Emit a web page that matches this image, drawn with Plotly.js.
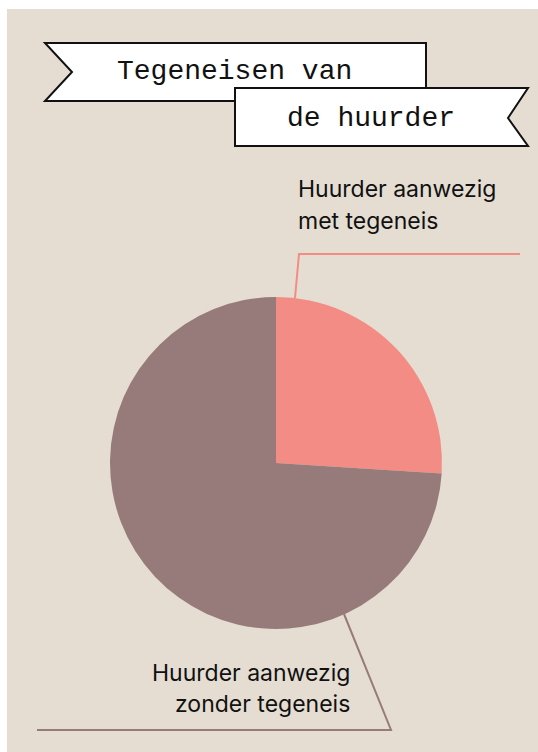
<!DOCTYPE html>
<html>
<head>
<meta charset="utf-8">
<script src="https://cdn.plot.ly/plotly-3.0.1.min.js"></script>
<style>html,body{margin:0;padding:0;background:#fff;}#chart{width:538px;height:752px;}</style>
</head>
<body>
<div id="chart"></div>
<script>
// Data
const categories = ["Huurder aanwezig met tegeneis", "Huurder aanwezig zonder tegeneis"];
const values = [26, 74];
const sliceColors = ["#f28c85", "#967b7a"];
const titleLines = ["Tegeneisen van", "de huurder"];
const labelTop = ["Huurder aanwezig", "met tegeneis"];
const labelBottom = ["Huurder aanwezig", "zonder tegeneis"];

const W = 538, H = 752;
const px = x => x / W;
const py = y => 1 - y / H;
const path = pts => pts.map((p, i) => (i ? "L" : "M") + px(p[0]).toFixed(5) + "," + py(p[1]).toFixed(5)).join(" ") + " Z";
const line = pts => pts.map((p, i) => (i ? "L" : "M") + px(p[0]).toFixed(5) + "," + py(p[1]).toFixed(5)).join(" ");

const trace = {
  type: "pie",
  labels: categories,
  values: values,
  sort: false,
  direction: "clockwise",
  rotation: 0,
  marker: {colors: sliceColors, line: {width: 0}},
  textinfo: "none",
  hoverinfo: "label+percent",
  showlegend: false,
  domain: {x: [px(110), px(442)], y: [py(629), py(297)]}
};

const labelFont = {family: "Inter, 'Noto Sans', sans-serif", size: 23, color: "#111"};
const titleFont = {family: "'Liberation Mono', 'DejaVu Sans Mono', monospace", size: 28, color: "#111"};

const annotations = [
  {text: titleLines[0], x: px(234), y: py(72), xanchor: "center", yanchor: "middle", font: titleFont},
  {text: titleLines[1], x: px(371), y: py(118), xanchor: "center", yanchor: "middle", font: titleFont},
  {text: labelTop[0], x: px(296), y: py(189), xanchor: "left", yanchor: "middle", font: labelFont},
  {text: labelTop[1], x: px(296), y: py(221), xanchor: "left", yanchor: "middle", font: labelFont},
  {text: labelBottom[0], x: px(352), y: py(673), xanchor: "right", yanchor: "middle", font: labelFont},
  {text: labelBottom[1], x: px(352), y: py(704), xanchor: "right", yanchor: "middle", font: labelFont}
].map(a => Object.assign({xref: "paper", yref: "paper", showarrow: false}, a));

const shapes = [
  {type: "rect", xref: "paper", yref: "paper", x0: px(7), x1: px(538), y0: py(752), y1: py(9),
   fillcolor: "#e5ddd1", line: {width: 0}, layer: "below"},
  {type: "path", xref: "paper", yref: "paper", path: path([[45,43],[426,43],[426,101],[45,101],[72,72]]),
   fillcolor: "#ffffff", line: {color: "#111", width: 2}, layer: "above"},
  {type: "path", xref: "paper", yref: "paper", path: path([[235,88],[528,88],[508,118],[528,146],[235,146]]),
   fillcolor: "#ffffff", line: {color: "#111", width: 2}, layer: "above"},
  {type: "path", xref: "paper", yref: "paper", path: line([[295,298],[299,254],[520,254]]),
   line: {color: sliceColors[0], width: 2}, layer: "above"},
  {type: "path", xref: "paper", yref: "paper", path: line([[344,614],[391,730],[37,730]]),
   line: {color: sliceColors[1], width: 2}, layer: "above"}
];

const layout = {
  width: W, height: H,
  margin: {l: 0, r: 0, t: 0, b: 0},
  paper_bgcolor: "#ffffff",
  plot_bgcolor: "rgba(0,0,0,0)",
  showlegend: false,
  shapes: shapes,
  annotations: annotations
};

Plotly.newPlot("chart", [trace], layout, {displayModeBar: false, staticPlot: true});
</script>
</body>
</html>
